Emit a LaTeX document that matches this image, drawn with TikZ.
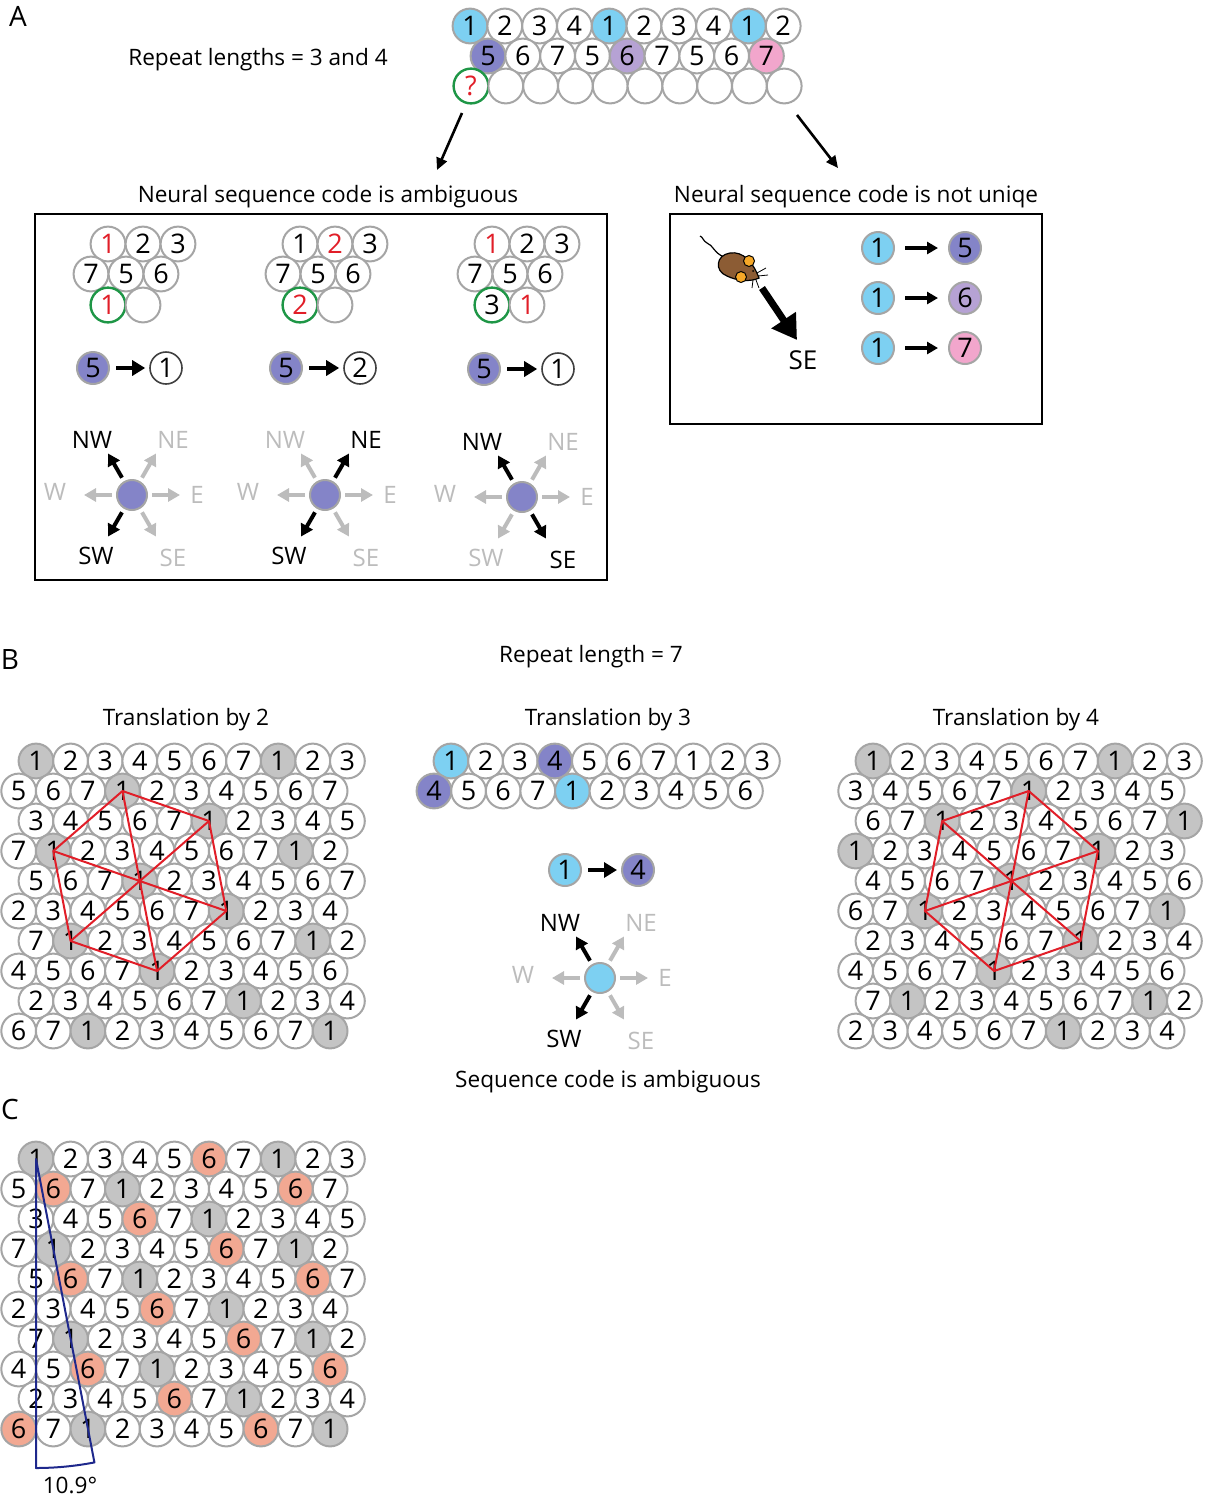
\documentclass[tikz,border=0pt]{standalone}
\usepackage{fontspec}
\setmainfont{Open Sans}
\usepackage{tikz}
\usetikzlibrary{
    arrows.meta,
    calc,
    positioning
}

\definecolor{cring}{RGB}{165,165,165}
\definecolor{cgray}{RGB}{196,196,196}
\definecolor{csky}{RGB}{125,208,242}
\definecolor{cpur}{RGB}{132,132,200}
\definecolor{clav}{RGB}{182,162,212}
\definecolor{cpink}{RGB}{242,166,204}
\definecolor{csalmon}{RGB}{242,168,146}
\definecolor{cgreen}{RGB}{30,150,70}
\definecolor{cred}{RGB}{225,30,40}
\definecolor{cblue}{RGB}{30,40,140}
\definecolor{cdim}{RGB}{188,188,188}
\definecolor{mbrown}{RGB}{140,92,52}
\definecolor{morange}{RGB}{246,168,40}

\newcommand{\compass}[9]{%
    \node[hub, fill=#3] (#1) at #2 {};
    \foreach \ang/\dn/\lx/\ly/\st in {0/E/65/0/#4, 60/NE/41/-55/#5, 120/NW/-40/-55/#6, 180/W/-77/-3/#7, 240/SW/-36/61/#8, 300/SE/41/63/#9} {
        \coordinate (#1-\dn) at ($(#1)+(-\ang:48)$);
        \draw[dirarrow, \st] (#1) -- (#1-\dn);
        \node[dirlabel, \st] at ($(#1)+(\lx,\ly)$) {\dn};
    }
}

\begin{document}
\begin{tikzpicture}[x=0.5pt, y=-0.5pt,
    cell/.style={circle, draw=cring, line width=1pt, fill=white, minimum size=17.4pt, inner sep=0pt, font=\fontsize{13.5}{13.5}\selectfont},
    dot/.style={cell, minimum size=16pt},
    hub/.style={circle, draw=cring, line width=1pt, minimum size=15pt, inner sep=0pt},
    sky/.style={fill=csky}, pur/.style={fill=cpur}, lav/.style={fill=clav}, pnk/.style={fill=cpink},
    rd/.style={text=cred}, gr/.style={draw=cgreen, line width=1.2pt},
    ringd/.style={draw=black!75, line width=0.8pt},
    title/.style={anchor=base, font=\fontsize{11.3}{13}\selectfont},
    panel/.style={anchor=base, font=\fontsize{14}{14}\selectfont},
    dirlabel/.style={font=\fontsize{12}{12}\selectfont},
    dirOn/.style={black}, dirOff/.style={cdim},
    dirarrow/.style={line width=2pt, shorten <=2pt, -{Triangle[length=6pt, width=6.5pt]}},
    thinarrow/.style={line width=1.3pt, -{Triangle[length=6pt, width=5.5pt]}},
    fatarrow/.style={line width=2pt, shorten <=3pt, shorten >=2pt, -{Triangle[length=6.5pt, width=7.5pt]}},
    midarrow/.style={line width=1.7pt, shorten <=5pt, shorten >=5pt, -{Triangle[length=5.5pt, width=6pt]}},
    bigarrow/.style={line width=3.5pt, -{Triangle[length=12pt, width=14pt]}},
    frame/.style={line width=1.25pt},
    hexline/.style={cred, line width=1pt, line join=round},
    wedge/.style={cblue, line width=1pt, line join=round}
]
\useasboundingbox (0,0) rectangle (1206,1500);

% A
\node[panel] (pA) at (18,26) {A};
\node[title] (tA) at (258,65) {Repeat lengths = 3 and 4};
\foreach \v/\s [count=\ci from 0] in {1/sky,2/,3/,4/,1/sky,2/,3/,4/,1/sky,2/}
    \node[cell, \s] (t0-\ci) at ({470+34.8*\ci}, 26) {\v};
\foreach \v/\s [count=\ci from 0] in {5/pur,6/,7/,5/,6/lav,7/,5/,6/,7/pnk}
    \node[cell, \s] (t1-\ci) at ({488+34.8*\ci}, 56) {\v};
\node[cell, gr, rd] (t2-0) at (471,86) {?};
\foreach \ci in {1,...,9}
    \node[cell] (t2-\ci) at ({471+34.8*\ci}, 86) {};
\coordinate (a1) at (462,113);
\coordinate (a2) at (437,170);
\coordinate (a3) at (797,115);
\coordinate (a4) at (838,168);
\draw
    (a1) edge[thinarrow] (a2)
    (a3) edge[thinarrow] (a4);

\node[title] (tL) at (328,202) {Neural sequence code is ambiguous};
\node[title] (tR) at (856,202) {Neural sequence code is not uniqe};
\draw[frame] (35,214) rectangle (607,580);
\draw[frame] (670,214) rectangle (1042,424);

\foreach \v/\s [count=\ci from 0] in {1/rd,2/,3/}
    \node[cell, \s] (k1-a\ci) at ({108+35*\ci}, 244) {\v};
\foreach \v/\s [count=\ci from 0] in {1/,2/rd,3/}
    \node[cell, \s] (k2-a\ci) at ({300+35*\ci}, 244) {\v};
\foreach \v/\s [count=\ci from 0] in {1/rd,2/,3/}
    \node[cell, \s] (k3-a\ci) at ({492+35*\ci}, 244) {\v};
\foreach \k/\bx in {1/91, 2/283, 3/475}
    \foreach \v [count=\ci from 0] in {7,5,6}
        \node[cell] (k\k-b\ci) at ({\bx+35*\ci}, 274) {\v};
\node[cell, gr, rd] (k1-c0) at (108,305) {1};
\node[cell] (k1-c1) at (143,305) {};
\node[cell, gr, rd] (k2-c0) at (300,305) {2};
\node[cell] (k2-c1) at (335,305) {};
\node[cell, gr] (k3-c0) at (492,305) {3};
\node[cell, rd] (k3-c1) at (527,305) {1};

\node[dot, pur] (q1) at (93,368) {5};
\node[dot, ringd] (r1) at (166,368) {1};
\node[dot, pur] (q2) at (286,368) {5};
\node[dot, ringd] (r2) at (360,368) {2};
\node[dot, pur] (q3) at (484,369) {5};
\node[dot, ringd] (r3) at (558,369) {1};
\draw
    (q1) edge[fatarrow] (r1)
    (q2) edge[fatarrow] (r2)
    (q3) edge[fatarrow] (r3);

\compass{ca}{(132,495)}{cpur}{dirOff}{dirOff}{dirOn}{dirOff}{dirOn}{dirOff}
\compass{cb}{(325,495)}{cpur}{dirOff}{dirOn}{dirOff}{dirOff}{dirOn}{dirOff}
\compass{cc}{(522,497)}{cpur}{dirOff}{dirOff}{dirOn}{dirOff}{dirOff}{dirOn}

% mouse
\draw[line width=0.6pt] (724,257) .. controls (714,253) and (713,245) .. (707,243) .. controls (703,241) and (703,237) .. (700,236);
\filldraw[fill=mbrown, line width=0.6pt] (759,278) .. controls (753,262) and (743,251) .. (730,253) .. controls (716,255) and (714,271) .. (727,276) .. controls (737,281) and (751,282) .. (759,278) -- cycle;
\filldraw[fill=morange, line width=0.5pt] (749,261) circle[radius=5.5] (741,277) circle[radius=5.5];
\fill (753,271) circle[radius=1];
\draw[line width=0.4pt] (757,273) -- (766,268) (758,276) -- (768,275) (753,280) -- (752,288) (756,280) -- (759,288);
\coordinate (m0) at (762,288);
\coordinate (m1) at (797,340);
\draw (m0) edge[bigarrow] (m1);
\node[dirlabel, font=\fontsize{13}{13}\selectfont] (se) at (803,360) {SE};
\foreach \v/\s [count=\ci from 1] in {5/pur,6/lav,7/pnk} {
    \node[dot, sky] (u\ci) at (878,{198+50*\ci}) {1};
    \node[dot, \s] (w\ci) at (965,{198+50*\ci}) {\v};
    \draw (u\ci) edge[midarrow] (w\ci);
}

% B
\node[panel] (pB) at (10,669) {B};
\node[title] (tB) at (591,662) {Repeat length = 7};
\node[title] (tB2) at (186,725) {Translation by 2};
\node[title] (tB3) at (608,725) {Translation by 3};
\node[title] (tB4) at (1016,725) {Translation by 4};

\begin{scope}[k1/.style={fill=cgray}]
\foreach \cells [count=\ri from 0] in {{1,2,3,4,5,6,7,1,2,3},{5,6,7,1,2,3,4,5,6,7},{3,4,5,6,7,1,2,3,4,5},{7,1,2,3,4,5,6,7,1,2},{5,6,7,1,2,3,4,5,6,7},{2,3,4,5,6,7,1,2,3,4},{7,1,2,3,4,5,6,7,1,2},{4,5,6,7,1,2,3,4,5,6},{2,3,4,5,6,7,1,2,3,4},{6,7,1,2,3,4,5,6,7,1}}
    \foreach \v [count=\ci from 0] in \cells
        \node[cell, k\v/.try] (L-\ri-\ci) at ({36+34.6*\ci-17.3*mod(\ri,2)}, {761+30*\ri}) {\v};
\foreach \cells [count=\ri from 0] in {{1,2,3,4,5,6,7,1,2,3},{3,4,5,6,7,1,2,3,4,5},{6,7,1,2,3,4,5,6,7,1},{1,2,3,4,5,6,7,1,2,3},{4,5,6,7,1,2,3,4,5,6},{6,7,1,2,3,4,5,6,7,1},{2,3,4,5,6,7,1,2,3,4},{4,5,6,7,1,2,3,4,5,6},{7,1,2,3,4,5,6,7,1,2},{2,3,4,5,6,7,1,2,3,4}}
    \foreach \v [count=\ci from 0] in \cells
        \node[cell, k\v/.try] (R-\ri-\ci) at ({873+34.6*\ci-17.3*mod(\ri,2)}, {761+30*\ri}) {\v};
\end{scope}
\draw[hexline] (L-1-3.center) -- (L-2-5.center) -- (L-5-6.center) -- (L-7-4.center) -- (L-6-1.center) -- (L-3-1.center) -- cycle;
\draw[hexline] (L-1-3.center) -- (L-7-4.center) (L-2-5.center) -- (L-6-1.center) (L-3-1.center) -- (L-5-6.center);
\draw[hexline] (R-1-5.center) -- (R-3-7.center) -- (R-6-6.center) -- (R-7-4.center) -- (R-5-2.center) -- (R-2-2.center) -- cycle;
\draw[hexline] (R-1-5.center) -- (R-7-4.center) (R-2-2.center) -- (R-6-6.center) (R-3-7.center) -- (R-5-2.center);

\foreach \v/\s [count=\ci from 0] in {1/sky,2/,3/,4/pur,5/,6/,7/,1/,2/,3/}
    \node[cell, \s] (M-0-\ci) at ({451+34.6*\ci}, 761) {\v};
\foreach \v/\s [count=\ci from 0] in {4/pur,5/,6/,7/,1/sky,2/,3/,4/,5/,6/}
    \node[cell, \s] (M-1-\ci) at ({434+34.6*\ci}, 791) {\v};
\node[dot, sky] (n1) at (565,870) {1};
\node[dot, pur] (n4) at (638,870) {4};
\draw (n1) edge[fatarrow] (n4);
\compass{cd}{(600,978)}{csky}{dirOff}{dirOff}{dirOn}{dirOff}{dirOn}{dirOff}
\node[title] (amb) at (608,1087) {Sequence code is ambiguous};

% C
\node[panel] (pC) at (10,1119) {C};
\begin{scope}[k1/.style={fill=cgray}, k6/.style={fill=csalmon}]
\foreach \cells [count=\ri from 0] in {{1,2,3,4,5,6,7,1,2,3},{5,6,7,1,2,3,4,5,6,7},{3,4,5,6,7,1,2,3,4,5},{7,1,2,3,4,5,6,7,1,2},{5,6,7,1,2,3,4,5,6,7},{2,3,4,5,6,7,1,2,3,4},{7,1,2,3,4,5,6,7,1,2},{4,5,6,7,1,2,3,4,5,6},{2,3,4,5,6,7,1,2,3,4},{6,7,1,2,3,4,5,6,7,1}}
    \foreach \v [count=\ci from 0] in \cells
        \node[cell, k\v/.try] (C-\ri-\ci) at ({36+34.6*\ci-17.3*mod(\ri,2)}, {1159+30*\ri}) {\v};
\end{scope}
\coordinate (cv) at ($(C-0-0.center)+(0,309)$);
\draw[wedge] (C-0-0.center) -- (cv) arc[start angle=90, end angle=79.1, radius=309] -- cycle;
\node[title] (deg) at (70,1493) {10.9°};
\end{tikzpicture}
\end{document}
